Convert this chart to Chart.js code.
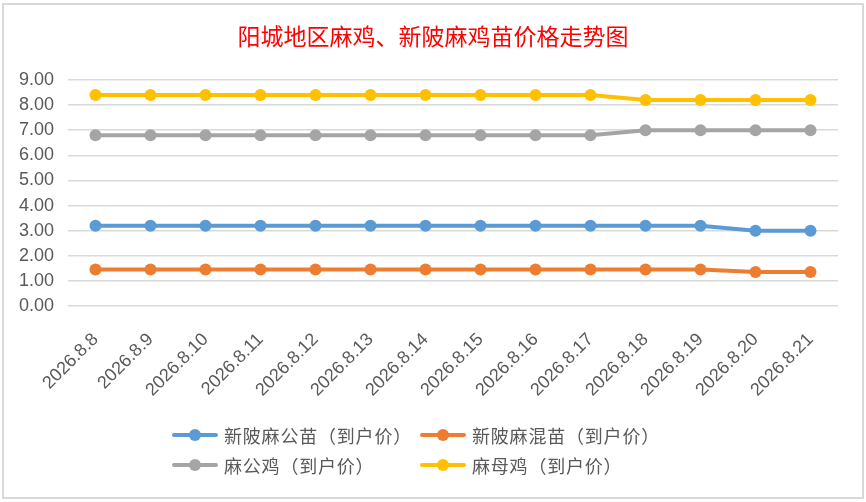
<!DOCTYPE html>
<html>
<head>
<meta charset="utf-8">
<script src="https://cdn.jsdelivr.net/npm/chart.js@4.4.1/dist/chart.umd.min.js"></script>
<style>
  body { margin: 0; background: #fff; }
  #wrap { position: relative; width: 866px; height: 502px; overflow: hidden; }
  #frame { position: absolute; left: 2px; top: 3px; width: 858px; height: 492px; border: 2px solid #d9d9d9; }
  #price-chart { position: absolute; left: 0; top: 0; }
  #title { position: absolute; left: 0; width: 866px; top: 19px; text-align: center; line-height: 32px;
    font-family: "Noto Sans CJK SC", sans-serif; font-size: 23px; color: #ff0000; }
  .legend-item { position: absolute; height: 24px; display: flex; align-items: center;
    font-family: "Noto Sans CJK SC", sans-serif; font-size: 18px; letter-spacing: 0.8px; color: #595959; white-space: nowrap; }
  .legend-mark { position: relative; width: 46px; height: 24px; margin-right: 6px; }
  .legend-mark .bar { position: absolute; left: 0; right: 0; top: 10px; height: 4px; border-radius: 2px; }
  .legend-mark .dot { position: absolute; left: 17px; top: 6px; width: 12px; height: 12px; border-radius: 50%; }
</style>
</head>
<body>
<div id="wrap">
  <div id="frame"></div>
  <canvas id="price-chart" width="866" height="502"></canvas>
  <div id="title">阳城地区麻鸡、新陂麻鸡苗价格走势图</div>
  <div id="legend"></div>
</div>
<script>
const price_chart_div = document.getElementById("price-chart");

// === DADOS === //
const dates = ['2026.8.8', '2026.8.9', '2026.8.10', '2026.8.11', '2026.8.12', '2026.8.13', '2026.8.14',
               '2026.8.15', '2026.8.16', '2026.8.17', '2026.8.18', '2026.8.19', '2026.8.20', '2026.8.21'];
const gongmiao = [3.2, 3.2, 3.2, 3.2, 3.2, 3.2, 3.2, 3.2, 3.2, 3.2, 3.2, 3.2, 3.0, 3.0];
const hunmiao = [1.45, 1.45, 1.45, 1.45, 1.45, 1.45, 1.45, 1.45, 1.45, 1.45, 1.45, 1.45, 1.35, 1.35];
const gongji = [6.8, 6.8, 6.8, 6.8, 6.8, 6.8, 6.8, 6.8, 6.8, 6.8, 7.0, 7.0, 7.0, 7.0];
const muji = [8.4, 8.4, 8.4, 8.4, 8.4, 8.4, 8.4, 8.4, 8.4, 8.4, 8.2, 8.2, 8.2, 8.2];
const y_ticks = [0, 1, 2, 3, 4, 5, 6, 7, 8, 9];

const series_names = ['新陂麻公苗（到户价）', '新陂麻混苗（到户价）', '麻公鸡（到户价）', '麻母鸡（到户价）'];
const series_colors = ['#5b9bd5', '#ed7d31', '#a5a5a5', '#ffc000'];
const series_values = [gongmiao, hunmiao, gongji, muji];

function makeDataset(i) {
  return {
    label: series_names[i],
    data: series_values[i],
    borderColor: series_colors[i],
    backgroundColor: series_colors[i],
    borderWidth: 4,
    pointRadius: 6,
    pointHoverRadius: 6,
    pointBorderWidth: 0,
    tension: 0,
    fill: false
  };
}

let price_chart = new Chart(price_chart_div, {
  type: 'line',
  data: {
    labels: dates,
    datasets: [makeDataset(0), makeDataset(1), makeDataset(2), makeDataset(3)]
  },
  options: {
    responsive: false,
    animation: false,
    layout: { padding: { left: 10, right: 28, top: 80, bottom: 0 } },
    plugins: {
      legend: { display: false },
      tooltip: { enabled: false },
      title: { display: false }
    },
    scales: {
      y: {
        min: 0,
        max: 9,
        afterBuildTicks: (scale) => { scale.ticks = y_ticks.map(v => ({ value: v })); },
        afterFit: (scale) => { scale.width = 58; },
        ticks: {
          padding: 14,
          color: '#595959',
          font: { family: '"Liberation Sans", sans-serif', size: 18 },
          callback: (v) => Number(v).toFixed(2)
        },
        grid: { color: '#d9d9d9', lineWidth: 1.5, drawTicks: false },
        border: { display: false }
      },
      x: {
        offset: true,
        afterFit: (scale) => { scale.height = 196; },
        ticks: {
          minRotation: 45,
          maxRotation: 45,
          autoSkip: false,
          padding: 23,
          color: '#595959',
          font: { family: '"Liberation Sans", sans-serif', size: 18 }
        },
        grid: { display: false, drawTicks: false, offset: true },
        border: { display: false }
      }
    }
  }
});

// === LEGENDA === //
const legend_div = document.getElementById('legend');
const legend_pos = [[172, 423], [420, 423], [172, 453], [420, 453]];
price_chart.data.datasets.forEach((ds, i) => {
  const item = document.createElement('div');
  item.className = 'legend-item';
  item.style.left = legend_pos[i][0] + 'px';
  item.style.top = legend_pos[i][1] + 'px';
  item.innerHTML = '<span class="legend-mark"><span class="bar" style="background:' + ds.borderColor +
    '"></span><span class="dot" style="background:' + ds.borderColor + '"></span></span>';
  const txt = document.createElement('span');
  txt.textContent = ds.label;
  item.appendChild(txt);
  legend_div.appendChild(item);
});
</script>
</body>
</html>
